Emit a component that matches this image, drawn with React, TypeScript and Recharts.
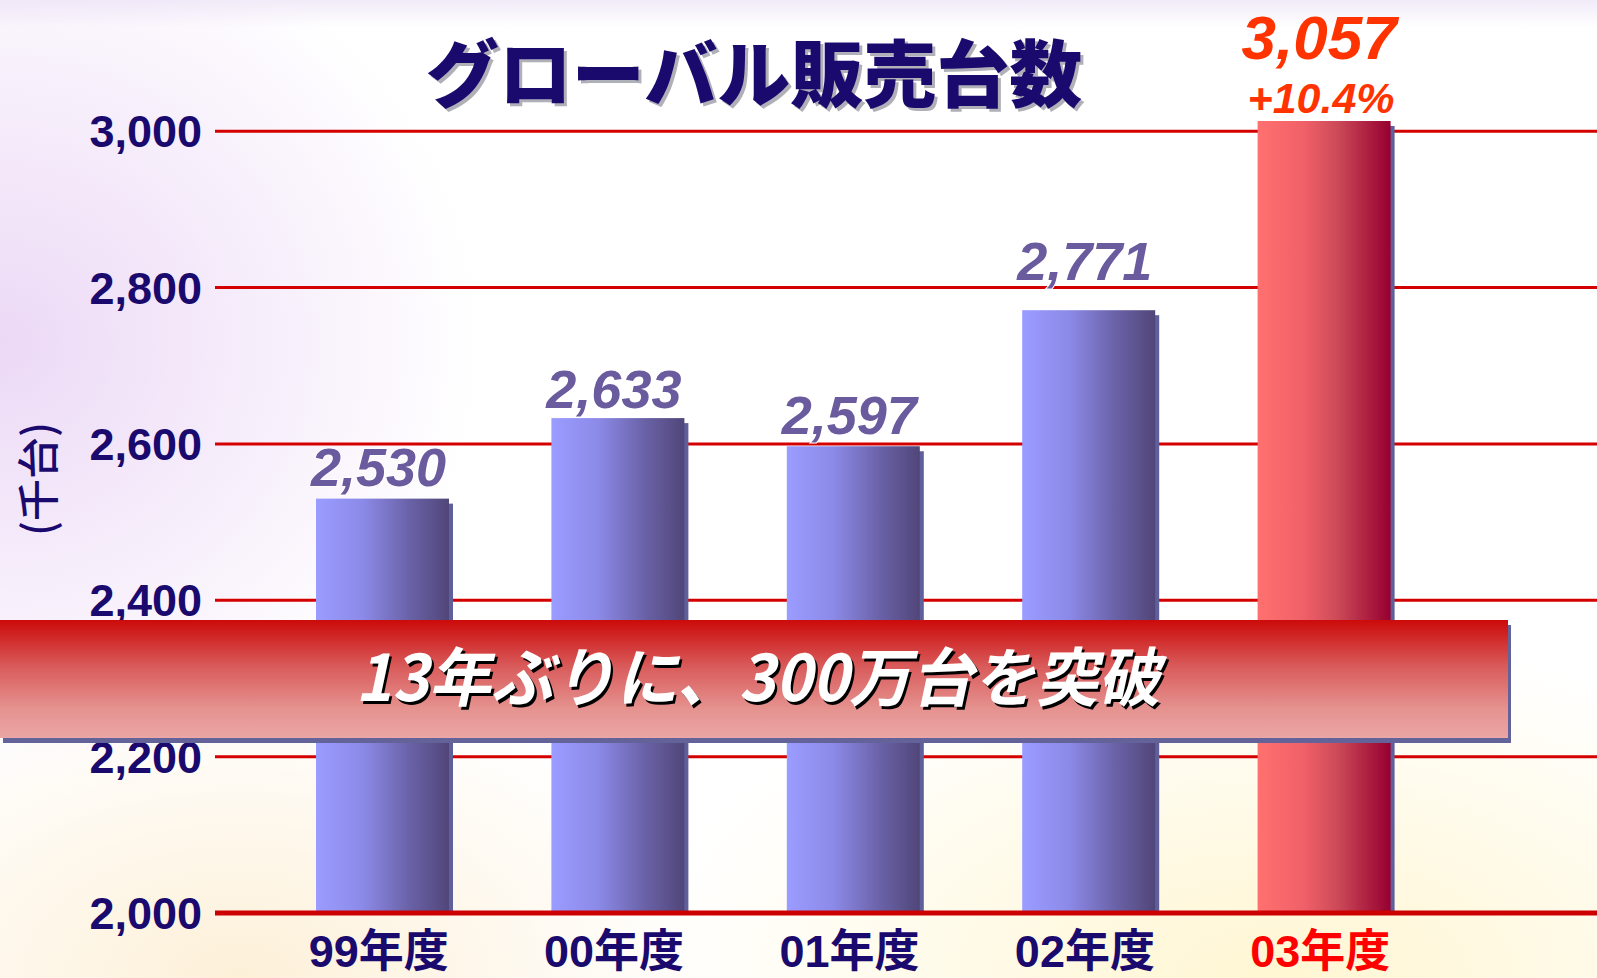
import React from 'react';
import { BarChart, Bar, XAxis, YAxis, CartesianGrid, LabelList, ReferenceLine } from 'recharts';

const categories = ['99年度', '00年度', '01年度', '02年度', '03年度'];
const sales = [2530, 2633, 2597, 2771, 3057];
const growthLabel = '+10.4%';
const highlightIndex = 4;
const yTicks = [2000, 2200, 2400, 2600, 2800, 3000];
const yDomain = [2000, 3013];

const titleText = 'グローバル販売台数';
const unitText = '(千台)';
const bannerText = '13年ぶりに、300万台を突破';

// gap between a value label and its bar top, the picture lifts 02 a bit more
const labelGaps = [13, 10, 12, 30, 0];

const data = categories.map((name, i) => ({ name, sales: sales[i] }));

const NAVY = '#1a0a6e';
const LATIN = '"Liberation Sans", Arial, "Noto Sans CJK JP", sans-serif';
const CJK = '"Noto Sans CJK JP", "Liberation Sans", sans-serif';

const fmt = (v: number) => v.toLocaleString('en-US');

const BarShape = (props: any) => {
  const { x, y, width, height, index, background } = props;
  const bottom = y + height;
  const top = background ? Math.max(y, background.y) : y;
  const h = bottom - top;
  const fill = index === highlightIndex ? 'url(#gradRed)' : 'url(#gradBlue)';
  return (
    <g>
      <rect x={x + 4} y={top + 5} width={width} height={h} fill="#5f5f9c" />
      <rect x={x} y={top} width={width} height={h} fill={fill} />
    </g>
  );
};

const ValueLabel = (props: any) => {
  const { x, y, width, value, index } = props;
  const cx = x + width / 2;
  if (index === highlightIndex) {
    return (
      <g fontFamily={LATIN} fontStyle="italic" fontWeight="bold" fill="#ff3300" textAnchor="middle">
        <text x={cx - 5} y={y - 28} fontSize={62}>{fmt(value)}</text>
        <text x={cx - 3} y={y + 26} fontSize={43}>{growthLabel}</text>
      </g>
    );
  }
  return (
    <text
      x={cx - 4}
      y={y - labelGaps[index]}
      textAnchor="middle"
      fontFamily={LATIN}
      fontStyle="italic"
      fontWeight="bold"
      fontSize={54}
      fill="#6a5a9e"
      stroke="#ffffff"
      strokeWidth={2}
      paintOrder="stroke"
    >
      {fmt(value)}
    </text>
  );
};

const CategoryTick = (props: any) => {
  const { x, y, payload, index } = props;
  return (
    <text
      x={x - 4}
      y={y}
      dy={52}
      textAnchor="middle"
      fontFamily={LATIN}
      fontWeight="bold"
      fontSize={45}
      fill={index === highlightIndex ? '#ff0000' : NAVY}
    >
      {payload.value}
    </text>
  );
};

export default function App() {
  return (
    <div
      style={{
        position: 'absolute',
        left: 0,
        top: 0,
        width: 1597,
        height: 978,
        overflow: 'hidden',
        background:
          'radial-gradient(ellipse 30% 45% at 0% 35%, #ecd9f6 0%, rgba(255,255,255,0) 100%),' +
          'radial-gradient(ellipse 40% 35% at 80% 100%, #fff6d2 0%, rgba(255,255,255,0) 100%),' +
          'radial-gradient(ellipse 30% 30% at 15% 100%, #fdf0d8 0%, rgba(255,255,255,0) 100%),' +
          'linear-gradient(to bottom, #f1ebf8 0px, #ffffff 28px)',
      }}
    >
      <BarChart
        width={1597}
        height={978}
        data={data}
        margin={{ top: 121, right: 0, bottom: 0, left: 0 }}
        barSize={133}
      >
        <defs>
          <linearGradient id="gradBlue" x1="0" y1="0" x2="1" y2="0">
            <stop offset="0%" stopColor="#9a9cff" />
            <stop offset="35%" stopColor="#8c8ae8" />
            <stop offset="70%" stopColor="#6a62a8" />
            <stop offset="100%" stopColor="#514679" />
          </linearGradient>
          <linearGradient id="gradRed" x1="0" y1="0" x2="1" y2="0">
            <stop offset="0%" stopColor="#ff7070" />
            <stop offset="35%" stopColor="#f06068" />
            <stop offset="60%" stopColor="#cc4a58" />
            <stop offset="100%" stopColor="#960030" />
          </linearGradient>
        </defs>
        <CartesianGrid vertical={false} horizontalValues={yTicks} stroke="#d40000" strokeWidth={3} />
        <XAxis
          dataKey="name"
          height={65}
          axisLine={false}
          tickLine={false}
          tickSize={0}
          padding={{ left: 50, right: 155 }}
          tick={<CategoryTick />}
          interval={0}
        />
        <YAxis
          width={215}
          domain={yDomain}
          ticks={yTicks}
          allowDataOverflow
          axisLine={false}
          tickLine={false}
          tickSize={0}
          tickMargin={13}
          tickFormatter={fmt}
          tick={{ fill: NAVY, fontSize: 45, fontWeight: 'bold', fontFamily: LATIN }}
        />
        <Bar dataKey="sales" shape={<BarShape />} isAnimationActive={false}>
          <LabelList dataKey="sales" content={<ValueLabel />} />
        </Bar>
        <ReferenceLine y={2000} stroke="#cc0000" strokeWidth={5} />
      </BarChart>

      <svg
        width={1597}
        height={978}
        style={{ position: 'absolute', left: 0, top: 0, pointerEvents: 'none' }}
      >
        <defs>
          <linearGradient id="bannerGrad" x1="0" y1="0" x2="0" y2="1">
            <stop offset="0%" stopColor="#cc0a0a" />
            <stop offset="40%" stopColor="#d95c5c" />
            <stop offset="75%" stopColor="#e5928f" />
            <stop offset="100%" stopColor="#eba6a6" />
          </linearGradient>
        </defs>
        <text
          x={754}
          y={101}
          textAnchor="middle"
          fontFamily={CJK}
          fontWeight={900}
          fontSize={73}
          fill="#b0b0b8"
          transform="translate(3,3)"
        >
          {titleText}
        </text>
        <text x={754} y={101} textAnchor="middle" fontFamily={CJK} fontWeight={900} fontSize={73} fill={NAVY}>
          {titleText}
        </text>

        <text
          x={35}
          y={479}
          transform="rotate(-90 35 479)"
          textAnchor="middle"
          dominantBaseline="central"
          fontFamily={CJK}
          fontWeight={500}
          fontSize={42}
          fill={NAVY}
        >
          {unitText}
        </text>

        <rect x={3} y={625} width={1508} height={118} fill="#636399" />
        <rect x={0} y={620} width={1508} height={118} fill="url(#bannerGrad)" />
        <g transform="translate(758 701) skewX(-12)">
          <text
            x={3}
            y={3}
            textAnchor="middle"
            fontFamily={CJK}
            fontWeight={700}
            fontSize={64}
            fill="#000000"
            textLength={805}
            lengthAdjust="spacingAndGlyphs"
          >
            {bannerText}
          </text>
          <text
            x={0}
            y={0}
            textAnchor="middle"
            fontFamily={CJK}
            fontWeight={700}
            fontSize={64}
            fill="#ffffff"
            textLength={805}
            lengthAdjust="spacingAndGlyphs"
          >
            {bannerText}
          </text>
        </g>
      </svg>
    </div>
  );
}
